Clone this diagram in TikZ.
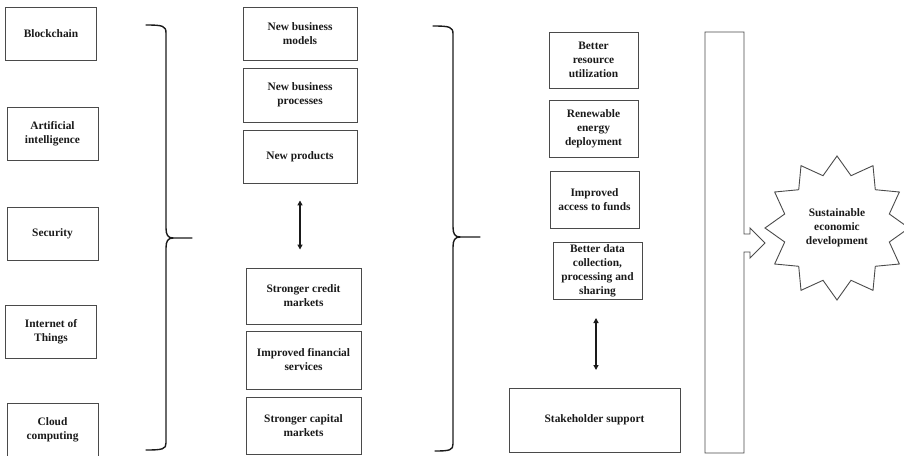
\documentclass[tikz,border=0pt]{standalone}
\usepackage{fontspec}
\setmainfont{Liberation Serif}
\usepackage{xcolor}
\usepackage{tikz}
\usetikzlibrary{arrows.meta,shapes.geometric}
\definecolor{edge}{HTML}{4A4A4A}
\definecolor{ink}{HTML}{1A1A1A}
\tikzset{
  box/.style={draw=edge, line width=0.9pt, align=center, inner sep=2pt,
    font=\fontsize{11.4}{14}\selectfont\bfseries, text=ink},
  techbox/.style={box, minimum width=91pt, minimum height=53pt},
  midbox/.style={box, minimum width=114pt},
  goalbox/.style={box, minimum width=89pt},
  brace/.style={draw=ink, line width=1.4pt, line cap=round, line join=round},
  link/.style={draw=ink, line width=1.4pt, {Triangle[length=5pt,width=5pt]}-{Triangle[length=5pt,width=5pt]}},
  shell/.style={draw=edge, line width=0.9pt, line join=miter},
}

\begin{document}
\begin{tikzpicture}[x=1pt,y=-1pt]
  \useasboundingbox (0,0) rectangle (904,455);

  \node[techbox] (chain) at (51,33.5) {Blockchain};
  \node[techbox] (ai) at (52.5,134) {Artificial\\intelligence};
  \node[techbox] (sec) at (52.5,233.5) {Security};
  \node[techbox] (iot) at (51,331.5) {Internet of\\Things};
  \node[techbox] (cloud) at (52.5,429.5) {Cloud\\computing};

  \draw[brace] (146,25) .. controls (163,25) and (166,26) .. (166,33) -- (166,228)
    .. controls (166,235) and (168,238) .. (173,238) -- (192,238);
  \draw[brace] (173,238) .. controls (168,238) and (166,241) .. (166,248) -- (166,443)
    .. controls (166,449) and (163,450) .. (146,450);

  \node[midbox, minimum height=53pt] (models) at (300,33.5) {New business\\models};
  \node[midbox, minimum height=54pt] (procs) at (300,95) {New business\\processes};
  \node[midbox, minimum height=53pt] (prods) at (300,156.5) {New products};
  \node[midbox, minimum width=115pt, minimum height=56pt] (credit) at (303.5,296) {Stronger credit\\markets};
  \node[midbox, minimum width=115pt, minimum height=58pt] (fin) at (303.5,360) {Improved financial\\services};
  \node[midbox, minimum width=115pt, minimum height=57pt] (capital) at (303.5,425.5) {Stronger capital\\markets};
  \draw[link, shorten <=17pt, shorten >=18pt] (prods.south) -- (prods.south |- credit.north);

  \draw[brace] (433,26) .. controls (450,26) and (453,27) .. (453,34) -- (453,227)
    .. controls (453,234) and (455,237) .. (460,237) -- (480,237);
  \draw[brace] (460,237) .. controls (455,237) and (453,240) .. (453,247) -- (453,444)
    .. controls (453,450) and (450,451) .. (435,451);

  \node[goalbox, minimum height=56pt] (usage) at (593.5,60) {Better\\resource\\utilization};
  \node[goalbox, minimum height=57pt] (renew) at (593.5,128.5) {Renewable\\energy\\deployment};
  \node[goalbox, minimum height=57pt] (funds) at (594.5,199.5) {Improved\\access to funds};
  \node[goalbox, minimum height=56pt] (data) at (597.5,271) {Better data\\collection,\\processing and\\sharing};
  \node[box, minimum width=171pt, minimum height=64pt] (stake) at (594.5,420) {Stakeholder support};
  \draw[link, shorten <=19pt, shorten >=18pt] (596,299) -- (596,388);

  \draw[shell] (705,32) -- (744,32) -- (744,234) -- (750,234) -- (750,228) -- (765,243)
    -- (750,258) -- (750,252) -- (744,252) -- (744,453) -- (705,453) -- cycle;

  \node[box, star, star points=12, star point ratio=1.33, minimum size=144pt,
    inner sep=0pt] (goal) at (837,228) {Sustainable\\economic\\development};
\end{tikzpicture}
\end{document}
